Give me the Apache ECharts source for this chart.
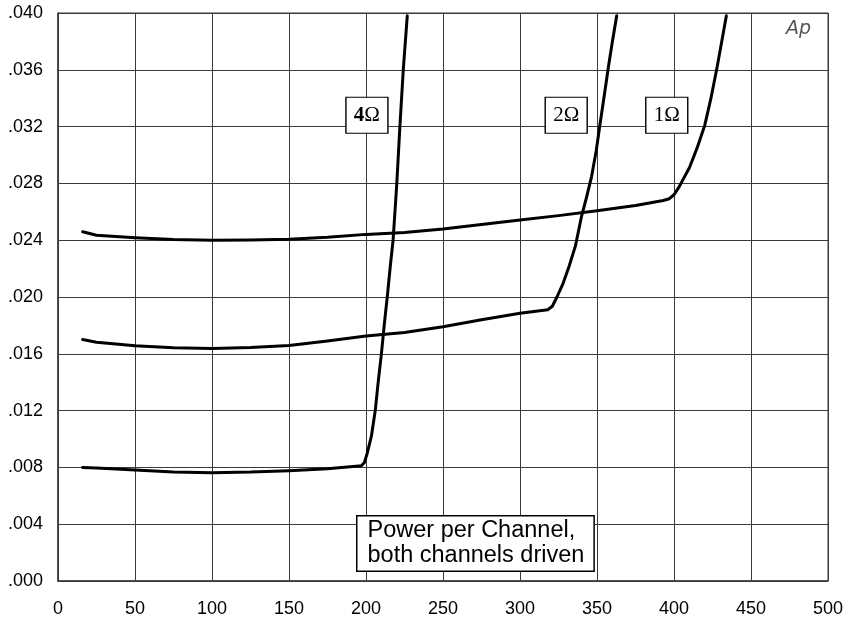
<!DOCTYPE html>
<html>
<head>
<meta charset="utf-8">
<script src="https://cdn.jsdelivr.net/npm/echarts@6/dist/echarts.min.js"></script>
<style>html,body{margin:0;padding:0;background:#fff}#c{width:850px;height:622px}</style>
</head>
<body>
<div id="c"></div>
<script>
// Power per channel (W) vs value
const xTicks = [0, 50, 100, 150, 200, 250, 300, 350, 400, 450, 500];
const yTicks = [0, 0.004, 0.008, 0.012, 0.016, 0.020, 0.024, 0.028, 0.032, 0.036, 0.040];

const ohm1 = [[16,0.0246],[25,0.02435],[50,0.02418],[75,0.02405],[100,0.0240],[125,0.02402],[150,0.02406],[175,0.0242],[200,0.02441],[225,0.02455],[250,0.02479],[275,0.0251],[300,0.02542],[325,0.02573],[350,0.02608],[375,0.02645],[393,0.02680],[397,0.02692],[400,0.0272],[403,0.0277],[406,0.0283],[410,0.0291],[415,0.0305],[420,0.0321],[424,0.0340],[428,0.0362],[431,0.0380],[434,0.0398]];
const ohm2 = [[16,0.0170],[25,0.01682],[50,0.01657],[75,0.01642],[100,0.01638],[125,0.01645],[150,0.01659],[175,0.0169],[200,0.01725],[225,0.0175],[250,0.01791],[275,0.0184],[300,0.01885],[318,0.01910],[321,0.01935],[324,0.0200],[328,0.02096],[332,0.0222],[336,0.02360],[340,0.0257],[343.3,0.02706],[346.5,0.0285],[349.5,0.0303],[352,0.0322],[354.6,0.0341],[357.4,0.0362],[360,0.0380],[362.8,0.0398]];
const ohm4 = [[16,0.0080],[25,0.00795],[50,0.00782],[75,0.00768],[100,0.00763],[125,0.00767],[150,0.00777],[175,0.0079],[197,0.00812],[199,0.00835],[200.8,0.0090],[203.5,0.0102],[206,0.0120],[208,0.0141],[210,0.0160],[212,0.0182],[213.8,0.0200],[215.8,0.0222],[217.6,0.0240],[220,0.0280],[222,0.0320],[224.2,0.0360],[226.8,0.0398]];

const seriesNames = ['4Ω', '2Ω', '1Ω'];
const labelPos = [[200.6, 0.0328], [330, 0.0328], [395.3, 0.0328]];

const chart = echarts.init(document.getElementById('c'));
const gridColor = '#3a3a3a';

function mkSeries(name, data, lp, bold) {
  return {
    name: name, type: 'line', data: data, showSymbol: false, symbol: 'none',
    smooth: false,
    lineStyle: { color: '#000', width: 3, join: 'round', cap: 'round' },
    silent: true,
    markPoint: {
      symbol: 'rect', symbolSize: [42, 36], silent: true,
      itemStyle: { color: '#fff', borderColor: '#000', borderWidth: 1.3 },
      label: {
        show: true, position: 'inside', color: '#000',
        fontFamily: 'Liberation Serif', fontSize: 21,
        formatter: bold ? '{b|' + name.charAt(0) + '}' + name.slice(1) : name,
        rich: { b: { fontWeight: 'bold', fontFamily: 'Liberation Serif', fontSize: 21, color: '#000' } }
      },
      data: [{ coord: lp }]
    }
  };
}

chart.setOption({
  animation: false,
  backgroundColor: '#fff',
  grid: { left: 58, right: 22, top: 13, bottom: 41, show: true, borderColor: gridColor, borderWidth: 1 },
  xAxis: {
    type: 'value', min: xTicks[0], max: xTicks[xTicks.length - 1], interval: 50,
    axisLine: { show: true, lineStyle: { color: gridColor, width: 1.5 } },
    axisTick: { show: false },
    splitLine: { show: true, lineStyle: { color: gridColor, width: 1 } },
    axisLabel: { color: '#000', fontFamily: 'Liberation Sans', fontSize: 18, margin: 19 }
  },
  yAxis: {
    type: 'value', min: yTicks[0], max: yTicks[yTicks.length - 1], interval: 0.004,
    axisLine: { show: true, lineStyle: { color: gridColor, width: 1.5 } },
    axisTick: { show: false },
    splitLine: { show: true, lineStyle: { color: gridColor, width: 1 } },
    axisLabel: {
      color: '#000', fontFamily: 'Liberation Sans', fontSize: 18, margin: 15,
      formatter: v => v.toFixed(3).replace(/^0/, '')
    }
  },
  series: [
    mkSeries(seriesNames[0], ohm4, labelPos[0], true),
    mkSeries(seriesNames[1], ohm2, labelPos[1], false),
    mkSeries(seriesNames[2], ohm1, labelPos[2], false)
  ],
  graphic: [
    {
      type: 'text', left: 356, top: 515, z: 100,
      style: {
        text: 'Power per Channel,\nboth channels driven',
        font: '23.5px "Liberation Sans"', fill: '#000', lineHeight: 25,
        backgroundColor: '#fff', borderColor: '#000', borderWidth: 1.5,
        padding: [2, 9, 2, 10]
      }
    },
    {
      type: 'text', left: 786, top: 20, z: 100,
      style: { text: 'Ap', font: 'italic 300 19px "DejaVu Sans"', fill: '#555' }
    }
  ]
});
</script>
</body>
</html>
